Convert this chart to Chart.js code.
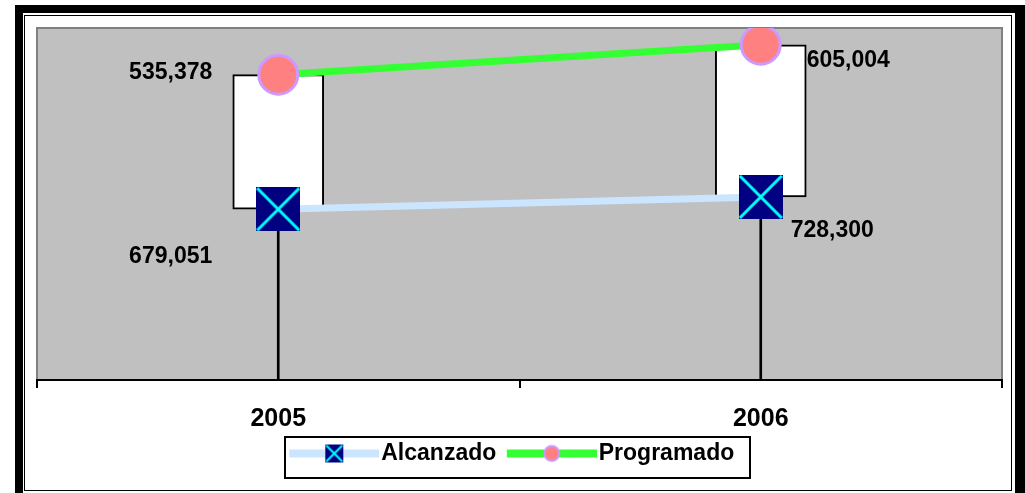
<!DOCTYPE html>
<html>
<head>
<meta charset="utf-8">
<script src="https://cdn.jsdelivr.net/npm/chart.js@4.4.0/dist/chart.umd.min.js"></script>
<style>
  html, body { margin: 0; padding: 0; background: #fff; }
  canvas { display: block; }
</style>
</head>
<body>
<canvas id="chart" width="1025" height="493"></canvas>
<script>
// values
const years = ["2005", "2006"];
const alcanzado = [679051, 728300];
const programado = [535378, 605004];
const axisMax = 1400000;

const FONT = "'Liberation Sans', Arial, sans-serif";
Chart.defaults.font.family = FONT;
Chart.defaults.color = "#000";

// navy square with a cyan X, like the Excel marker
function squareMarker(size) {
    const c = document.createElement("canvas");
    c.width = size;
    c.height = size;
    const g = c.getContext("2d");
    g.fillStyle = "#000080";
    g.fillRect(0, 0, size, size);
    g.strokeStyle = "#00FFFF";
    g.lineWidth = size > 30 ? 3 : 2;
    g.beginPath();
    g.moveTo(1, 1);
    g.lineTo(size - 1, size - 1);
    g.moveTo(size - 1, 1);
    g.lineTo(1, size - 1);
    g.stroke();
    return c;
}

// legend swatch: line segment with the marker in the middle
const ICON_MARGIN = 10;
function legendIcon(lineColor, drawMarker) {
    const w = 90, h = 20;
    const c = document.createElement("canvas");
    c.width = w + ICON_MARGIN;
    c.height = h;
    const g = c.getContext("2d");
    g.fillStyle = lineColor;
    g.fillRect(ICON_MARGIN, h / 2 - 4, w, 8);
    drawMarker(g, ICON_MARGIN + w / 2, h / 2);
    return c;
}

const iconAlcanzado = legendIcon("#CCE5FF", function (g, x, y) {
    g.drawImage(squareMarker(18), x - 9, y - 9);
});
const iconProgramado = legendIcon("#33FF33", function (g, x, y) {
    g.beginPath();
    g.arc(x, y, 7.5, 0, Math.PI * 2);
    g.fillStyle = "#FF8080";
    g.fill();
    g.lineWidth = 2;
    g.strokeStyle = "#CC99FF";
    g.stroke();
});

const frame = {
    id: "frame",
    beforeDraw(chart) {
        const ctx = chart.ctx;
        const a = chart.chartArea;
        ctx.save();
        ctx.fillStyle = "#fff";
        ctx.fillRect(0, 0, chart.width, chart.height);
        ctx.fillStyle = "#000";
        ctx.fillRect(15, 5, 8, chart.height);
        ctx.fillRect(15, 5, chart.width, 8);
        ctx.fillRect(1015, 5, 10, chart.height);
        ctx.lineWidth = 1;
        ctx.strokeStyle = "#000";
        ctx.strokeRect(24.5, 15.5, 987, 475);
        ctx.fillStyle = "#C0C0C0";
        ctx.fillRect(a.left, a.top, a.width, a.height);
        ctx.strokeStyle = "#808080";
        ctx.lineWidth = 2;
        ctx.beginPath();
        ctx.moveTo(a.left, a.bottom);
        ctx.lineTo(a.left, a.top);
        ctx.lineTo(a.right, a.top);
        ctx.lineTo(a.right, a.bottom);
        ctx.stroke();
        ctx.restore();
    }
};

const valueLabels = {
    id: "valueLabels",
    afterDatasetsDraw(chart, args, opts) {
        const ctx = chart.ctx;
        ctx.save();
        ctx.font = "bold 23px " + FONT;
        ctx.fillStyle = "#000";
        ctx.textBaseline = "alphabetic";
        opts.series.forEach(function (s) {
            const meta = chart.getDatasetMeta(s.dataset);
            const values = chart.data.datasets[s.dataset].data;
            meta.data.forEach(function (pt, i) {
                const off = s.offsets[i];
                ctx.textAlign = off[0] < 0 ? "right" : "left";
                ctx.fillText(values[i].toLocaleString("en-US"), pt.x + off[0], pt.y + off[1]);
            });
        });
        ctx.restore();
    }
};

const legendBox = {
    id: "legendBox",
    afterDraw(chart) {
        const boxes = chart.legend.legendHitBoxes;
        if (!boxes || !boxes.length) return;
        const first = boxes[0], last = boxes[boxes.length - 1];
        const left = Math.round(first.left - 4.5);
        const right = Math.round(last.left + last.width + 17);
        const top = Math.round(first.top - 6);
        const bottom = Math.round(first.top + 37);
        const ctx = chart.ctx;
        ctx.save();
        ctx.lineWidth = 2;
        ctx.strokeStyle = "#000";
        ctx.strokeRect(left + 1, top + 1, right - left - 2, bottom - top - 2);
        ctx.restore();
    }
};

const chart = new Chart(document.getElementById("chart"), {
    type: "line",
    data: {
        labels: years,
        datasets: [
            {
                label: "Alcanzado",
                data: alcanzado,
                yAxisID: "y",
                borderColor: "#CCE5FF",
                borderWidth: 7,
                tension: 0,
                fill: false,
                pointStyle: squareMarker(44),
                pointRadius: 22,
                order: 0
            },
            {
                label: "Programado",
                data: programado,
                yAxisID: "y",
                borderColor: "#33FF33",
                borderWidth: 7,
                tension: 0,
                fill: false,
                pointStyle: "circle",
                pointRadius: 19.5,
                pointBorderWidth: 3,
                pointBackgroundColor: "#FF8080",
                pointBorderColor: "#CC99FF",
                order: 0
            },
            {
                label: "updown",
                type: "bar",
                data: years.map(function (_, i) { return [alcanzado[i], alcanzado[i] + programado[i]]; }),
                yAxisID: "y2",
                grouped: false,
                barThickness: 91,
                backgroundColor: "#fff",
                borderColor: "#000",
                borderWidth: 2,
                borderSkipped: false,
                order: 2
            },
            {
                label: "hilo",
                type: "bar",
                data: alcanzado.map(function (v) { return [0, v]; }),
                yAxisID: "y2",
                grouped: false,
                barThickness: 2,
                backgroundColor: "#000",
                borderWidth: 0,
                order: 3
            }
        ]
    },
    options: {
        responsive: false,
        animation: false,
        devicePixelRatio: 1,
        layout: { autoPadding: false, padding: { left: 21, right: 23, top: 28, bottom: 18 } },
        scales: {
            x: {
                type: "category",
                offset: true,
                grid: {
                    offset: true,
                    drawOnChartArea: false,
                    drawTicks: true,
                    tickLength: 8,
                    color: "#000",
                    lineWidth: 2
                },
                border: { display: true, color: "#000", width: 2 },
                ticks: {
                    color: "#000",
                    font: { size: 25, weight: "bold" },
                    padding: 16,
                    maxRotation: 0
                },
                afterFit: function (scale) {
                    scale.height = 52;
                }
            },
            // value axis is not shown; it only keeps a blank strip left of the plot
            y: {
                stacked: true,
                min: 0,
                max: axisMax,
                position: "left",
                ticks: { display: false },
                grid: { display: false },
                border: { display: false },
                afterFit: function (scale) {
                    scale.width = 16;
                }
            },
            y2: { min: 0, max: axisMax, display: false }
        },
        plugins: {
            tooltip: { enabled: false },
            legend: {
                position: "bottom",
                labels: {
                    usePointStyle: true,
                    pointStyleWidth: 81,
                    padding: 10,
                    color: "#000",
                    font: { size: 23, weight: "bold" },
                    generateLabels: function () {
                        return [
                            { text: "Alcanzado", pointStyle: iconAlcanzado, datasetIndex: 0, hidden: false, lineWidth: 0, fontColor: "#000" },
                            { text: "Programado", pointStyle: iconProgramado, datasetIndex: 1, hidden: false, lineWidth: 0, fontColor: "#000" }
                        ];
                    }
                }
            },
            valueLabels: {
                series: [
                    { dataset: 0, offsets: [[-66, 54], [30, 40]] },
                    { dataset: 1, offsets: [[-66, 4], [46, 22]] }
                ]
            }
        }
    },
    plugins: [frame, valueLabels, legendBox]
});
</script>
</body>
</html>
